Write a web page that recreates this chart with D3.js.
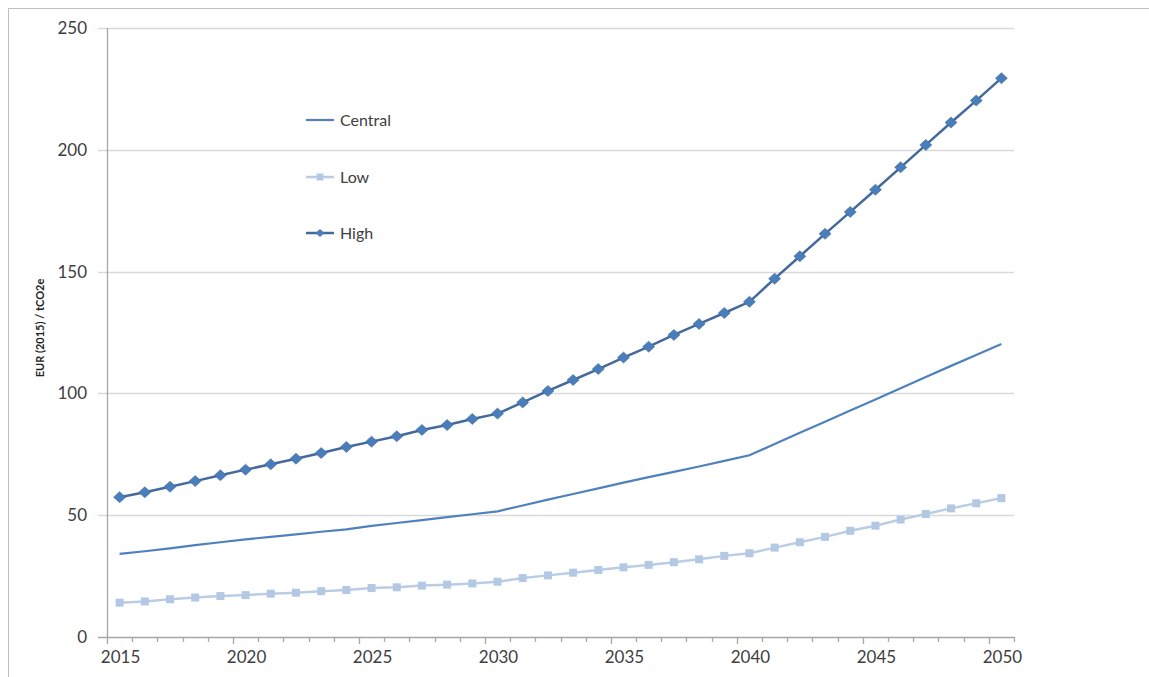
<!DOCTYPE html>
<html>
  <head>
    <meta charset="utf-8" />
    <script src="https://d3js.org/d3.v7.min.js"></script>
    <style>
      body { margin: 0; background: #fff; }
      #master { width: 1149px; height: 677px; }
      text { font-family: Lato, "Open Sans", sans-serif; fill: #404040; }
    </style>
  </head>
  <body>
    <div id="master"></div>
    <script type="text/javascript">
var width = 1149, height = 677;

// data (EUR 2015 / tCO2e)
var years = d3.range(2015, 2051);
var central = [34.1, 35.2, 36.4, 37.7, 38.9, 40.1, 41.1, 42.1, 43.2, 44.2,
               45.6, 46.8, 48.0, 49.2, 50.4, 51.6, 54.0, 56.4, 58.7, 61.0,
               63.4, 65.6, 67.8, 70.0, 72.3, 74.6, 79.2, 83.8, 88.4, 93.0,
               97.5, 102.1, 106.7, 111.3, 115.8, 120.3];
var low = [14.1, 14.6, 15.5, 16.2, 16.8, 17.2, 17.8, 18.2, 18.8, 19.3,
           20.1, 20.4, 21.1, 21.5, 22.0, 22.7, 24.2, 25.3, 26.4, 27.5,
           28.6, 29.6, 30.7, 31.9, 33.3, 34.4, 36.7, 38.9, 41.1, 43.6,
           45.7, 48.2, 50.5, 52.8, 54.9, 57.0];
var high = [57.4, 59.4, 61.7, 64.0, 66.4, 68.7, 70.9, 73.2, 75.5, 78.0,
            80.2, 82.4, 85.0, 87.0, 89.5, 91.7, 96.3, 101.0, 105.5, 110.0,
            114.7, 119.2, 124.0, 128.5, 133.0, 137.6, 147.1, 156.3, 165.5, 174.5,
            183.6, 192.8, 202.0, 211.2, 220.2, 229.4];
var yTicks = [0, 50, 100, 150, 200, 250];
var xLabels = [2015, 2020, 2025, 2030, 2035, 2040, 2045, 2050];
var seriesNames = ["Central", "Low", "High"];

var margin = {left: 107, right: 135, top: 28, bottom: 40};

var svg = d3.select("#master").append("svg")
  .attr("width", width)
  .attr("height", height);

// outer frame
svg.append("rect")
  .attr("x", 8.5).attr("y", 8.5)
  .attr("width", width).attr("height", height)
  .attr("fill", "none")
  .attr("stroke", "#bfbfbf");

var x = d3.scaleBand()
  .domain(years)
  .range([margin.left, width - margin.right])
  .padding(0);

var y = d3.scaleLinear()
  .domain([0, 250])
  .range([height - margin.bottom, margin.top]);

function cx(d) { return x(d) + x.bandwidth() / 2; }

// gridlines (extend left as tick marks)
svg.append("g")
  .selectAll("line")
  .data(yTicks)
  .enter().append("line")
    .attr("x1", margin.left - 9)
    .attr("x2", width - margin.right)
    .attr("y1", function(d) { return Math.round(y(d)) + 0.5; })
    .attr("y2", function(d) { return Math.round(y(d)) + 0.5; })
    .attr("stroke", function(d) { return d === 0 ? "#a6a6a6" : "#d9d9d9"; })
    .attr("stroke-width", 1.3);

// y axis line
svg.append("line")
  .attr("x1", margin.left + 0.5).attr("x2", margin.left + 0.5)
  .attr("y1", y(250)).attr("y2", y(0))
  .attr("stroke", "#a6a6a6")
  .attr("stroke-width", 1.3);

// y tick labels
svg.append("g")
  .selectAll("text")
  .data(yTicks)
  .enter().append("text")
    .attr("x", margin.left - 20)
    .attr("y", function(d) { return y(d); })
    .attr("dy", "0.35em")
    .attr("text-anchor", "end")
    .style("font-size", "17px")
    .text(function(d) { return d; });

// x ticks at category boundaries
var bounds = years.concat([2051]);
svg.append("g")
  .selectAll("line")
  .data(bounds)
  .enter().append("line")
    .attr("x1", function(d, i) { return Math.round(margin.left + i * x.bandwidth()) + 0.5; })
    .attr("x2", function(d, i) { return Math.round(margin.left + i * x.bandwidth()) + 0.5; })
    .attr("y1", y(0))
    .attr("y2", function(d, i) { return y(0) + (i % 5 === 0 ? 7 : 5); })
    .attr("stroke", "#a6a6a6")
    .attr("stroke-width", 1.3);

svg.append("g")
  .selectAll("text")
  .data(xLabels)
  .enter().append("text")
    .attr("x", function(d) { return cx(d) + 1; })
    .attr("y", height - 14)
    .attr("text-anchor", "middle")
    .style("font-size", "17px")
    .text(function(d) { return d; });

// y axis title
svg.append("text")
  .attr("transform", "translate(44," + 328 + ") rotate(-90)")
  .attr("text-anchor", "middle")
  .style("font-size", "11px")
  .style("font-weight", "bold")
  .style("fill", "#222")
  .text("EUR (2015) / tCO2e");

var line = d3.line()
  .x(function(d, i) { return cx(years[i]); })
  .y(function(d) { return y(d); });

var colors = {Central: "#4f81bd", Low: "#b9cde5", High: "#44699b"};
var markerColors = {Low: "#b3c9e3", High: "#4a7ebb"};

// central
svg.append("path")
  .datum(central)
  .attr("d", line)
  .attr("fill", "none")
  .attr("stroke", colors.Central)
  .attr("stroke-width", 2.2);

// low
svg.append("path")
  .datum(low)
  .attr("d", line)
  .attr("fill", "none")
  .attr("stroke", colors.Low)
  .attr("stroke-width", 2.5);

svg.append("g")
  .selectAll("rect")
  .data(low)
  .enter().append("rect")
    .attr("x", function(d, i) { return cx(years[i]) - 4; })
    .attr("y", function(d) { return y(d) - 4; })
    .attr("width", 8)
    .attr("height", 8)
    .attr("fill", markerColors.Low);

// high
svg.append("path")
  .datum(high)
  .attr("d", line)
  .attr("fill", "none")
  .attr("stroke", colors.High)
  .attr("stroke-width", 2.5);

// flat-ish diamond like the Excel marker
function diamond(w, h) {
  return "M0," + (-h) + "L" + w + ",0L0," + h + "L" + (-w) + ",0Z";
}

svg.append("g")
  .selectAll("path")
  .data(high)
  .enter().append("path")
    .attr("d", diamond(6, 5.5))
    .attr("transform", function(d, i) { return "translate(" + cx(years[i]) + "," + y(d) + ")"; })
    .attr("fill", markerColors.High)
    .attr("stroke", "#41699e")
    .attr("stroke-width", 0.6);

// legend
var legendY = [120, 177, 233];
var legend = svg.append("g");
seriesNames.forEach(function(name, i) {
  var ly = legendY[i];
  legend.append("line")
    .attr("x1", 306).attr("x2", 334)
    .attr("y1", ly).attr("y2", ly)
    .attr("stroke", colors[name])
    .attr("stroke-width", name === "Central" ? 2.2 : 2.5);
  if (name === "Low") {
    legend.append("rect")
      .attr("x", 316.5).attr("y", ly - 3.5)
      .attr("width", 7).attr("height", 7)
      .attr("fill", markerColors.Low);
  }
  if (name === "High") {
    legend.append("path")
      .attr("d", diamond(4.5, 4))
      .attr("transform", "translate(320," + ly + ")")
      .attr("fill", markerColors.High);
  }
  legend.append("text")
    .attr("x", 340)
    .attr("y", ly)
    .attr("dy", "0.35em")
    .style("font-size", "16px")
    .text(name);
});
    </script>
  </body>
</html>
